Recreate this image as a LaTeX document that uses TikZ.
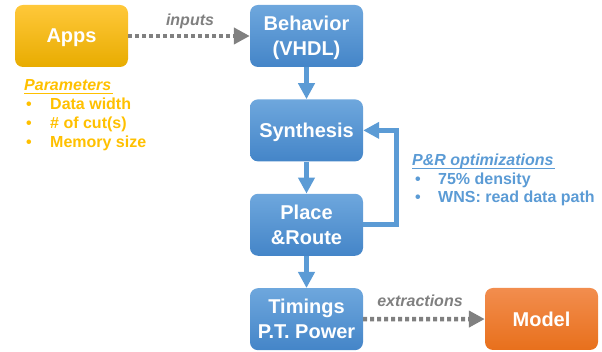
\documentclass[tikz,border=0pt]{standalone}
\usepackage{fontspec}
\setmainfont{Liberation Sans}
\usetikzlibrary{arrows.meta,positioning,calc}

\definecolor{stepblue}{HTML}{5B9BD5}
\definecolor{stepbluetop}{HTML}{6EA7DD}
\definecolor{stepbluebot}{HTML}{4485C8}
\definecolor{appsyellow}{HTML}{FFC000}
\definecolor{appstop}{HTML}{FFC83A}
\definecolor{appsbot}{HTML}{E8AC00}
\definecolor{modeltop}{HTML}{F28D4E}
\definecolor{modelbot}{HTML}{E8701C}
\definecolor{flowgray}{HTML}{808080}

\tikzset{
  box/.style = {rounded corners=8pt, minimum width=113pt, minimum height=62pt,
    text=white, align=center, text depth=0pt, font=\fontsize{20}{25}\selectfont\bfseries},
  bluebox/.style = {box, top color=stepbluetop, bottom color=stepbluebot},
  flow/.style = {stepblue, line width=5pt, -{Triangle[width=16pt,length=16pt]}},
  dotflow/.style = {flowgray, line width=4.5pt, dash pattern=on 4pt off 3pt,
    -{Triangle[width=16pt,length=16pt]}},
  lbl/.style = {flowgray, font=\fontsize{16}{19}\selectfont\bfseries\itshape},
  item/.style = {anchor=base west, inner sep=0pt, font=\fontsize{16}{19}\selectfont\bfseries},
  uline/.style = {line width=0.9pt, shorten >=-1pt},
}

\begin{document}
\begin{tikzpicture}[x=1pt, y=1pt]
  \useasboundingbox (0,0) rectangle (602,352);

  % flow of the steps
  \node[bluebox] (beh) at (306.5,316) {Behavior\\(VHDL)};
  \node[bluebox, below = 32pt of beh] (syn) {Synthesis};
  \node[bluebox, below = 32pt of syn] (pnr) {Place\\\&Route};
  \node[bluebox, below = 32pt of pnr] (tim) {Timings\\P.T. Power};

  \node[box, top color=appstop, bottom color=appsbot] (apps) at (71.5,316) {Apps};
  \node[box, top color=modeltop, bottom color=modelbot] (model) at (541.5,33) {Model};

  \draw[flow] (beh) -- (syn);
  \draw[flow] (syn) -- (pnr);
  \draw[flow] (pnr) -- (tim);
  \draw[flow] (pnr.east) -- ++(33,0) |- (syn.east);

  \draw[dotflow] (apps) -- (beh);
  \draw[dotflow] (tim) -- (model);
  \node[lbl] (inp) at (190,331) {inputs};
  \node[lbl] (ext) at (420,51) {extractions};

  % parameters of the apps
  \node[item, appsyellow] (par) at (24,261) {\itshape Parameters};
  \draw[uline, appsyellow] ($(par.base west)+(0,-2)$) -- ($(par.base east)+(0,-2)$);
  \foreach \txt [count=\i] in {Data width, \# of cut(s), Memory size} {
    \node[item, appsyellow] (pb\i) at (26,261-19*\i) {\textbullet};
    \node[item, appsyellow] (pi\i) at (50,261-19*\i) {\txt};
  }

  % P&R optimizations
  \node[item, stepblue] (opt) at (412,186) {\itshape P\&R optimizations};
  \draw[uline, stepblue] ($(opt.base west)+(0,-2)$) -- ($(opt.base east)+(0,-2)$);
  \foreach \txt [count=\i] in {75\% density, WNS: read data path} {
    \node[item, stepblue] (ob\i) at (415,186-18.5*\i) {\textbullet};
    \node[item, stepblue] (oi\i) at (438,186-18.5*\i) {\txt};
  }
\end{tikzpicture}
\end{document}
